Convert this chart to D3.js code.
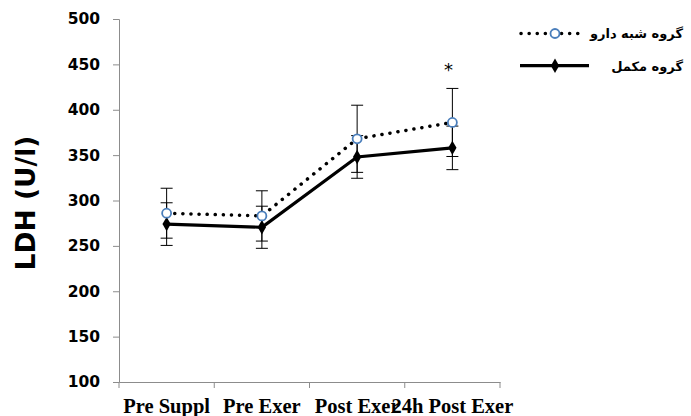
<!DOCTYPE html>
<html><head><meta charset="utf-8">
<script src="https://cdn.jsdelivr.net/npm/d3@7"></script>
<style>body{margin:0;background:#fff}</style>
</head><body>
<svg id="c" width="691" height="416"></svg>
<script>
const categories = ["Pre Suppl", "Pre Exer", "Post Exer", "24h Post Exer"];
const placebo = [286, 283, 368, 386];
const placeboErr = [27.5, 27.7, 37, 37.5];
const supplement = [274, 270.5, 348, 358];
const supplementErr = [23.5, 23.2, 23.5, 24];
const yTicks = [100, 150, 200, 250, 300, 350, 400, 450, 500];
const seriesNames = ["گروه شبه دارو", "گروه مکمل"];
const starIndex = 3;

const svg = d3.select("#c");
const x = d3.scaleBand().domain(categories).range([119, 500]);
const y = d3.scaleLinear().domain([100, 500]).range([382, 19]);
const axisColor = "#8c8c8c";

// Y axis
const ya = svg.append("g").attr("transform", "translate(119,0)")
  .call(d3.axisLeft(y).tickValues(yTicks).tickSize(6).tickPadding(13));
ya.select(".domain").attr("stroke", axisColor);
ya.selectAll(".tick line").attr("stroke", axisColor);
ya.selectAll("text").attr("font-family", "DejaVu Sans").attr("font-weight", "bold")
  .attr("font-size", 15.5).attr("fill", "#000");

// X axis
const xa = svg.append("g").attr("transform", "translate(0,382)")
  .call(d3.axisBottom(x).tickSize(0).tickPadding(0));
xa.select(".domain").attr("stroke", axisColor);
xa.selectAll(".tick text").attr("font-family", "Liberation Serif").attr("font-weight", "bold")
  .attr("font-size", 20.5).attr("fill", "#000").attr("dy", 0).attr("y", 31);
const edges = categories.map(c => x(c)).concat([x.range()[1]]);
svg.append("g").selectAll("line").data(edges).join("line")
  .attr("x1", d => d).attr("x2", d => d).attr("y1", 382).attr("y2", 388)
  .attr("stroke", axisColor);

// Y title
svg.append("text").attr("transform", "translate(35,203) rotate(-90)")
  .attr("text-anchor", "middle").attr("font-family", "DejaVu Sans").attr("font-weight", "bold")
  .attr("font-size", 26.5).text("LDH (U/l)");

const cx = c => x(c) + x.bandwidth() / 2;

function errBars(vals, errs) {
  const g = svg.append("g").attr("stroke", "#000").attr("stroke-width", 1);
  categories.forEach((c, i) => {
    const X = cx(c), t = y(vals[i] + errs[i]), b = y(vals[i] - errs[i]);
    g.append("line").attr("x1", X).attr("x2", X).attr("y1", t).attr("y2", b);
    g.append("line").attr("x1", X - 6).attr("x2", X + 6).attr("y1", t).attr("y2", t);
    g.append("line").attr("x1", X - 6).attr("x2", X + 6).attr("y1", b).attr("y2", b);
  });
}
errBars(supplement, supplementErr);
errBars(placebo, placeboErr);

const line = d3.line().x((d, i) => cx(categories[i])).y(d => y(d));
svg.append("path").datum(placebo).attr("d", line).attr("fill", "none")
  .attr("stroke", "#000").attr("stroke-width", 3.5).attr("stroke-linecap", "round")
  .attr("stroke-dasharray", "0.1 8");
svg.append("path").datum(supplement).attr("d", line).attr("fill", "none")
  .attr("stroke", "#000").attr("stroke-width", 3.2);

const diamond = d3.symbol().type(d3.symbolDiamond).size(60);
svg.append("g").selectAll("path").data(supplement).join("path")
  .attr("d", diamond).attr("transform", (d, i) => `translate(${cx(categories[i])},${y(d)})`)
  .attr("fill", "#000");
svg.append("g").selectAll("circle").data(placebo).join("circle")
  .attr("cx", (d, i) => cx(categories[i])).attr("cy", d => y(d)).attr("r", 4.5)
  .attr("fill", "#fff").attr("stroke", "#4a7ebb").attr("stroke-width", 1.8);

// star
svg.append("text").attr("x", cx(categories[starIndex]) - 4)
  .attr("y", y(placebo[starIndex] + placeboErr[starIndex]) - 12)
  .attr("text-anchor", "middle").attr("font-family", "DejaVu Sans").attr("font-size", 18)
  .text("*");

// legend
const lg = svg.append("g");
lg.append("line").attr("x1", 521).attr("x2", 585).attr("y1", 33.5).attr("y2", 33.5)
  .attr("stroke", "#000").attr("stroke-width", 3.5).attr("stroke-linecap", "round")
  .attr("stroke-dasharray", "0.1 8");
lg.append("circle").attr("cx", 555).attr("cy", 33.5).attr("r", 4.5)
  .attr("fill", "#fff").attr("stroke", "#4a7ebb").attr("stroke-width", 1.8);
lg.append("line").attr("x1", 520).attr("x2", 589).attr("y1", 65.7).attr("y2", 65.7)
  .attr("stroke", "#000").attr("stroke-width", 3.2);
lg.append("path").attr("d", diamond).attr("transform", "translate(555,65.7)").attr("fill", "#000");
lg.selectAll("text").data(seriesNames).join("text")
  .attr("x", 683).attr("y", (d, i) => 38 + i * 32.5)
  .attr("text-anchor", "end")
  .attr("font-family", "DejaVu Sans").attr("font-weight", "bold").attr("font-size", 13)
  .text(d => d);
</script>
</body></html>
